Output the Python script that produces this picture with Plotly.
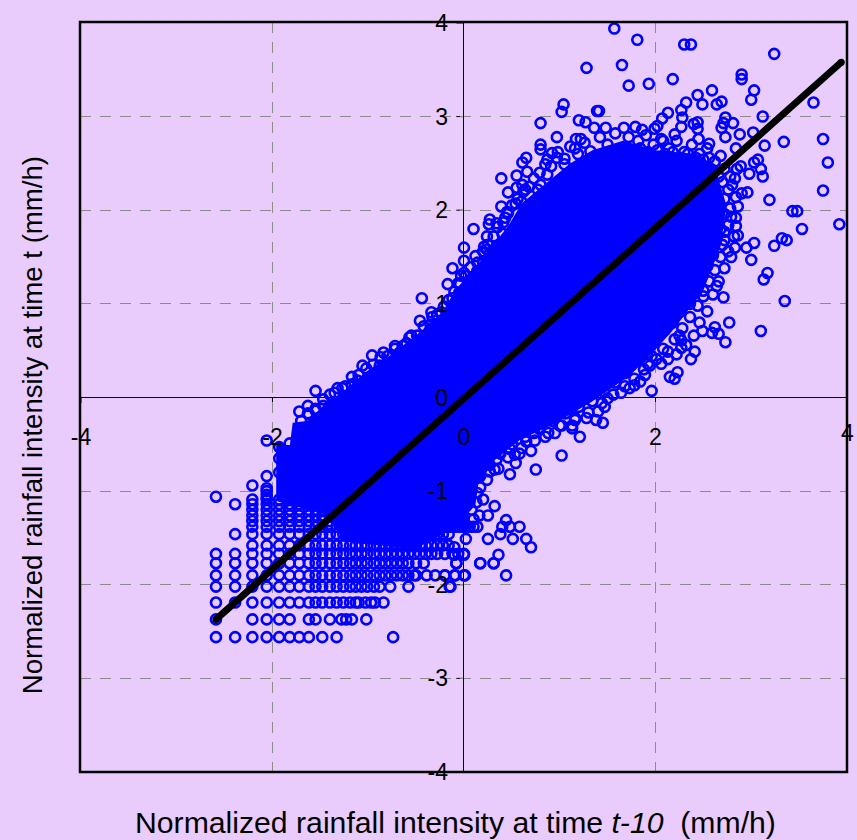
import plotly.graph_objects as go

# Solid core of the cloud: outline (too dense to read single points)
core_x = [-1.94,-1.94,-1.80,-1.77,-1.62,-1.45,-1.24,-1.02,-0.72,-0.42,-0.21,-0.06,0.14,0.31,0.48,0.62,0.85,1.12,1.35,1.66,2.00,2.42,2.60,2.72,2.66,2.48,2.18,1.98,1.72,1.32,0.90,0.58,0.30,0.13,0.10,0.03,0.02,-0.12,-0.52,-1.23,-1.43,-1.94]
core_y = [-1.09,-0.53,-0.53,-0.29,-0.27,-0.10,0.05,0.25,0.46,0.70,0.90,1.15,1.38,1.60,1.82,2.06,2.25,2.48,2.62,2.72,2.62,2.58,2.45,2.05,1.62,1.15,0.75,0.52,0.25,-0.03,-0.28,-0.43,-0.66,-0.92,-1.14,-1.22,-1.36,-1.38,-1.60,-1.52,-1.23,-1.09]

# Crowded rings along the edge of the core
rim_x = [-1.70,-1.62,-1.55,-1.47,-1.40,-1.32,-1.24,-1.17,-1.10,-1.02,-0.95,-0.87,-0.80,-0.72,-0.64,-0.57,-0.49,-0.42,-0.35,-0.28,-0.21,-0.16,-0.10,-0.06,0.02,0.07,0.14,0.20,0.25,0.31,0.35,0.41,0.45,0.50,0.56,0.62,0.68,0.73,0.79,0.85,
         0.98,1.05,1.11,1.19,1.26,1.32,1.42,1.50,1.58,1.72,1.82,1.90,1.98,2.06,2.14,2.22,2.30,2.38,2.46,2.54,2.62,2.68,2.60,2.72,2.78,2.70,2.76,2.84,2.72,2.78,2.84,2.72,2.76,2.68,2.82,2.72,2.64,2.76,2.68,2.60,2.72,2.62,2.54,2.66,2.56,2.48,2.60,2.50,2.42,2.54,2.44,2.36,2.46,2.36,2.26,2.40,2.28,2.18,2.32,2.20,2.10,2.22,2.08,1.98,2.06,1.96,1.86,1.88,1.78,1.70,
         1.78,1.68,1.68,1.58,1.56,1.46,1.44,1.34,1.30,1.20,1.16,1.06,1.02,0.92,0.88,0.78,0.74,0.64,0.60,0.50,0.46,0.38,0.36,0.27,0.24,0.17,0.14,0.13,0.08,0.10,
         -0.26,-0.22,-0.18,-0.14,-0.10,-0.06,-0.02,0.02,0.06,0.10,0.14,
         1.84,1.92,2.02,2.10,2.18,2.26,2.34,2.42,2.50,2.58,2.66]
rim_y = [-0.25,-0.18,-0.12,-0.02,0.03,0.10,0.12,0.22,0.24,0.31,0.35,0.43,0.44,0.52,0.55,0.64,0.66,0.76,0.78,0.88,0.97,1.04,1.13,1.22,1.30,1.39,1.44,1.56,1.63,1.72,1.82,1.87,1.98,2.05,2.12,2.20,2.25,2.34,2.40,2.49,
         2.62,2.55,2.68,2.60,2.72,2.63,2.78,2.70,2.82,2.78,2.74,2.80,2.70,2.76,2.66,2.74,2.62,2.70,2.60,2.66,2.52,2.58,2.42,2.44,2.36,2.30,2.22,2.14,2.12,2.02,1.92,1.96,1.84,1.80,1.72,1.68,1.70,1.56,1.50,1.52,1.38,1.36,1.40,1.24,1.24,1.28,1.10,1.08,1.12,0.92,0.98,1.00,0.80,0.86,0.92,0.66,0.74,0.80,0.56,0.62,0.72,0.46,0.52,0.64,0.36,0.44,0.54,0.30,0.38,0.46,
         0.20,0.26,0.12,0.16,0.03,0.06,-0.06,-0.04,-0.16,-0.10,-0.24,-0.17,-0.30,-0.25,-0.38,-0.33,-0.46,-0.42,-0.54,-0.50,-0.64,-0.60,-0.76,-0.72,-0.88,-0.84,-1.02,-1.12,-1.20,-1.30,
         -1.38,-1.38,-1.38,-1.38,-1.38,-1.38,-1.38,-1.38,-1.38,-1.38,-1.38,
         2.66,2.62,2.64,2.60,2.62,2.56,2.60,2.56,2.54,2.44,2.36]

# Upper rim and top outliers
upper_x = [1.57,1.81,2.30,2.37,3.24,1.28,1.65,1.72,1.93,2.18,2.90,2.90,2.59,2.44,3.03,3.00,2.49,2.64,2.69,2.32,3.65,2.27,2.28,2.13,2.07,2.02,1.99,1.41,1.39,1.04,1.02,1.20,1.27,1.36,1.48,1.67,1.79,1.86,2.73,2.71,2.81,2.69,2.44,2.40,2.44,3.12,3.02,2.88,2.27,2.20,2.08,2.45,2.73,2.56,2.84,3.14,3.34,3.75,0.80,0.97,0.80,0.80,0.92,0.97,1.16,1.17,1.22,0.65,0.61,0.87,1.05,0.66,0.55,0.39,0.61,0.55,0.46,0.80,0.87,0.91,0.64,0.77,0.39,0.54,0.60,0.27,0.26,0.46,0.43,0.34,0.10,0.24,0.40,0.00,0.21,0.24,0.34,0.12,0.00,0.20,0.14,-0.12,0.00,-0.03,-0.17,-0.04,-0.05,-0.44,-0.12,-0.11,-0.34,-0.33,-0.24,-0.34,-1.72,-1.63,-1.63,-1.55,-1.47,-1.47,-1.40,-1.55,-1.35,-1.27,-1.17,-1.11,-0.96,-0.84,-0.72,-0.60,-1.06,-0.88,-0.67,-0.55,-0.36,-0.46]
upper_y = [3.94,3.82,3.77,3.77,3.67,3.52,3.55,3.33,3.35,3.40,3.45,3.40,3.28,3.23,3.28,3.18,3.13,3.13,3.16,3.15,3.15,3.07,2.99,3.04,2.98,2.90,2.87,3.06,3.06,3.13,3.05,2.96,2.94,2.88,2.88,2.88,2.89,2.86,2.99,2.93,2.93,2.88,2.94,2.92,2.87,3.00,2.83,2.81,2.89,2.81,2.74,2.76,2.78,2.71,2.66,2.69,2.73,2.76,2.93,2.78,2.70,2.65,2.61,2.56,2.66,2.76,2.76,2.56,2.51,2.54,2.49,2.41,2.37,2.34,2.27,2.24,2.19,2.27,2.38,2.47,2.22,2.22,2.04,2.07,2.09,1.90,1.85,1.97,1.92,1.86,1.80,1.72,1.75,1.60,1.61,1.58,1.61,1.51,1.46,1.44,1.35,1.38,1.33,1.30,1.21,1.21,1.12,1.06,1.06,0.98,0.91,0.86,0.91,0.73,-0.15,-0.09,-0.17,-0.14,-0.09,-0.21,-0.09,0.07,0.05,0.10,0.14,0.18,0.45,0.48,0.55,0.58,0.34,0.34,0.48,0.66,0.71,0.82]

# Right-hand rim and outliers
right_x = [3.80,3.75,3.19,3.43,3.48,3.53,3.92,3.32,3.37,3.24,3.03,2.95,3.00,3.07,3.03,3.10,2.98,3.12,2.89,2.85,2.96,2.90,2.86,2.79,2.84,2.86,2.83,2.79,2.56,2.83,2.80,2.72,2.70,3.10,3.35,3.17,3.13,2.71,2.77,2.62,2.50,2.64,2.35]
right_y = [2.51,2.21,2.11,1.99,1.99,1.80,1.85,1.70,1.68,1.62,1.65,1.60,1.47,2.54,2.51,2.44,2.39,2.36,2.47,2.44,2.19,2.18,2.04,1.93,1.83,1.73,1.60,1.50,2.56,2.34,2.27,1.77,1.63,0.71,1.03,1.33,1.26,1.07,0.80,0.75,1.14,1.19,1.03]

# Lower rim and outliers
lower_x = [2.73,2.66,2.49,2.59,2.41,2.37,2.27,2.27,2.25,2.13,2.13,2.23,2.15,2.20,2.01,1.91,1.92,1.94,1.89,1.96,1.84,1.78,1.73,1.64,1.50,1.47,1.40,1.28,1.38,1.45,1.16,1.13,1.13,1.21,1.00,0.95,0.85,0.73,0.65,0.70,1.02,0.58,0.53,0.54,0.75,0.48,0.48,0.32,0.27,0.34,0.17,0.32,0.25,0.20,0.16,0.44,0.40,0.48,0.58,0.38,0.25,0.51,0.65,0.70,0.02,0.36,0.17,0.31,0.44,-0.08,0.00,-0.10,-0.10,0.01,-0.09,-0.20,-0.15]
lower_y = [0.59,0.68,0.71,0.69,0.49,0.41,0.53,0.61,0.66,0.49,0.41,0.27,0.22,0.20,0.41,0.47,0.36,0.34,0.24,0.07,0.17,0.13,0.10,0.05,-0.01,-0.10,-0.15,-0.22,-0.24,-0.27,-0.22,-0.30,-0.33,-0.42,-0.30,-0.38,-0.42,-0.38,-0.47,-0.57,-0.62,-0.60,-0.61,-0.70,-0.77,-0.82,-0.55,-0.77,-0.79,-0.66,-0.96,-1.16,-1.26,-1.09,-1.26,-1.31,-1.38,-1.38,-1.38,-1.46,-1.51,-1.51,-1.51,-1.60,-1.51,-1.68,-1.77,-1.77,-1.90,-1.77,-1.68,-1.68,-1.60,-1.90,-1.90,-1.90,-2.02]

# Discrete lattice at the low-intensity end: x positions of each row
col = [-2.59,-2.39,-2.21,-2.06,-1.93,-1.82,-1.72,-1.62,-1.55,-1.48,-1.40,-1.33,-1.26,-1.19,-1.13,-1.07,-1.01,-0.94,-0.88,-0.82,-0.76,-0.70,-0.64,-0.58,-0.52,-0.46,-0.40,-0.34,-0.28,-0.22,-0.16]
row_levels = [-2.56,-2.37,-2.19,-2.02,-1.90,-1.77,-1.67,-1.58,-1.46,-1.38,-1.32,-1.26,-1.20,-1.14,-1.09]
row_xs = [
    [-2.59,-2.39,-2.21,-2.06,-1.93,-1.82,-1.72,-1.62,-1.48,-1.33,-0.74],
    [-2.59,-2.21,-2.06,-1.93,-1.82,-1.62,-1.55,-1.40,-1.28,-1.23,-1.17,-1.02],
    col[:15] + [-1.10,-1.03,-0.97,-0.93,-0.84],
    col[:19] + [-0.77,-0.58,-0.14],
    col[:25] + [-0.50,-0.39,-0.30,-0.20,-0.10,0.00],
    col[:24] + [-0.50,-0.42,-0.08,0.17,0.31],
    col[:29] + [-0.20,-0.12,-0.06,0.00],
    col[2:],
    col[1:],
    col[2:],
    col[2:],
    col[2:],
    col[2:],
    col[1:],
    col[2:],
]
upper_col_x = [-2.59,-2.21,-2.06,-2.06,-2.06,-2.06,-2.06,-2.06,-1.82,-1.93,-1.93,-1.93]
upper_col_y = [-1.06,-0.94,-0.84,-0.97,-1.00,-0.46,-1.04,-1.07,-0.49,-0.53,-0.65,-0.80]

line_x = [-2.59, 3.94]
line_y = [-2.37, 3.58]

x_ticks = [-4, -2, 0, 2]
y_ticks = [-4, -3, -2, -1, 0, 1, 2, 3, 4]
x_labels = ["-4", "-2", "0", "2"]
y_labels = ["-4", "-3", "-2", "-1", "0", "1", "2", "3", "4"]
x_last_tick = 4
x_title = "Normalized rainfall intensity at time <i>t-10</i>  (mm/h)"
y_title = "Normalized rainfall intensity at time t (mm/h)"

BG = "#E9CBFC"
BLUE = "#0000FF"
FONT = "Liberation Sans"

lat_x, lat_y = [], []
for level, xs in zip(row_levels, row_xs):
    lat_x += xs
    lat_y += [level] * len(xs)

pts_x = lat_x + upper_col_x + rim_x + upper_x + right_x + lower_x
pts_y = lat_y + upper_col_y + rim_y + upper_y + right_y + lower_y

fig = go.Figure()
fig.add_trace(go.Scatter(x=core_x, y=core_y, mode="lines", fill="toself", fillcolor=BLUE,
                         line=dict(color=BLUE, width=4), hoverinfo="skip"))
fig.add_trace(go.Scatter(x=pts_x, y=pts_y, mode="markers",
                         marker=dict(symbol="circle-open", size=10, color=BLUE, line=dict(color=BLUE, width=2.6))))
fig.add_trace(go.Scatter(x=line_x, y=line_y, mode="lines+markers",
                         line=dict(color="black", width=7),
                         marker=dict(color="black", size=7)))

shapes = [dict(type="rect", xref="x domain", yref="y domain", x0=0, x1=1, y0=0, y1=1,
               line=dict(color="black", width=2.5), layer="above")]
for t in y_ticks:
    shapes.append(dict(type="line", xref="x", yref="y", x0=-0.08, x1=0, y0=t, y1=t,
                       line=dict(color="black", width=1), layer="below"))
for t in x_ticks + [x_last_tick]:
    shapes.append(dict(type="line", xref="x", yref="y", x0=t, x1=t, y0=-0.06, y1=0,
                       line=dict(color="black", width=1), layer="below"))

tick_font = dict(family=FONT, size=23, color="black")
fig.update_layout(
    width=857, height=840, showlegend=False,
    paper_bgcolor=BG, plot_bgcolor=BG,
    margin=dict(l=80, r=10, t=19, b=68),
    shapes=shapes,
    xaxis=dict(range=[-4.01, 4.0], tickvals=x_ticks, ticktext=x_labels, ticks="", anchor="free", position=0.4994,
               showline=False, showgrid=True, gridcolor="#8C8C8C", griddash="11px,9px", gridwidth=1,
               zeroline=True, zerolinecolor="black", zerolinewidth=1,
               tickfont=tick_font, ticklabelstandoff=24),
    yaxis=dict(range=[-4.0, 4.01], tickvals=y_ticks, ticktext=y_labels, ticks="", anchor="free", position=0.5006,
               showline=False, showgrid=True, gridcolor="#8C8C8C", griddash="11px,9px", gridwidth=1,
               zeroline=True, zerolinecolor="black", zerolinewidth=1,
               tickfont=tick_font, ticklabelstandoff=16),
    annotations=[
        dict(text=str(x_last_tick), xref="x", yref="y", x=x_last_tick, y=0, yshift=-36, showarrow=False,
             font=tick_font, xanchor="center", yanchor="middle"),
        dict(text=x_title, xref="paper", yref="paper", x=0.4895, y=-0.0675, showarrow=False,
             font=dict(family=FONT, size=30.2, color="black"), xanchor="center", yanchor="middle"),
        dict(text=y_title, xref="paper", yref="paper", x=-0.062, y=0.463, showarrow=False, textangle=-90,
             font=dict(family=FONT, size=27.6, color="black"), xanchor="center", yanchor="middle"),
    ],
)
fig.write_html("out.html", config=dict(displayModeBar=False),
               post_script="document.body.style.margin='0';document.body.style.overflow='hidden';")
